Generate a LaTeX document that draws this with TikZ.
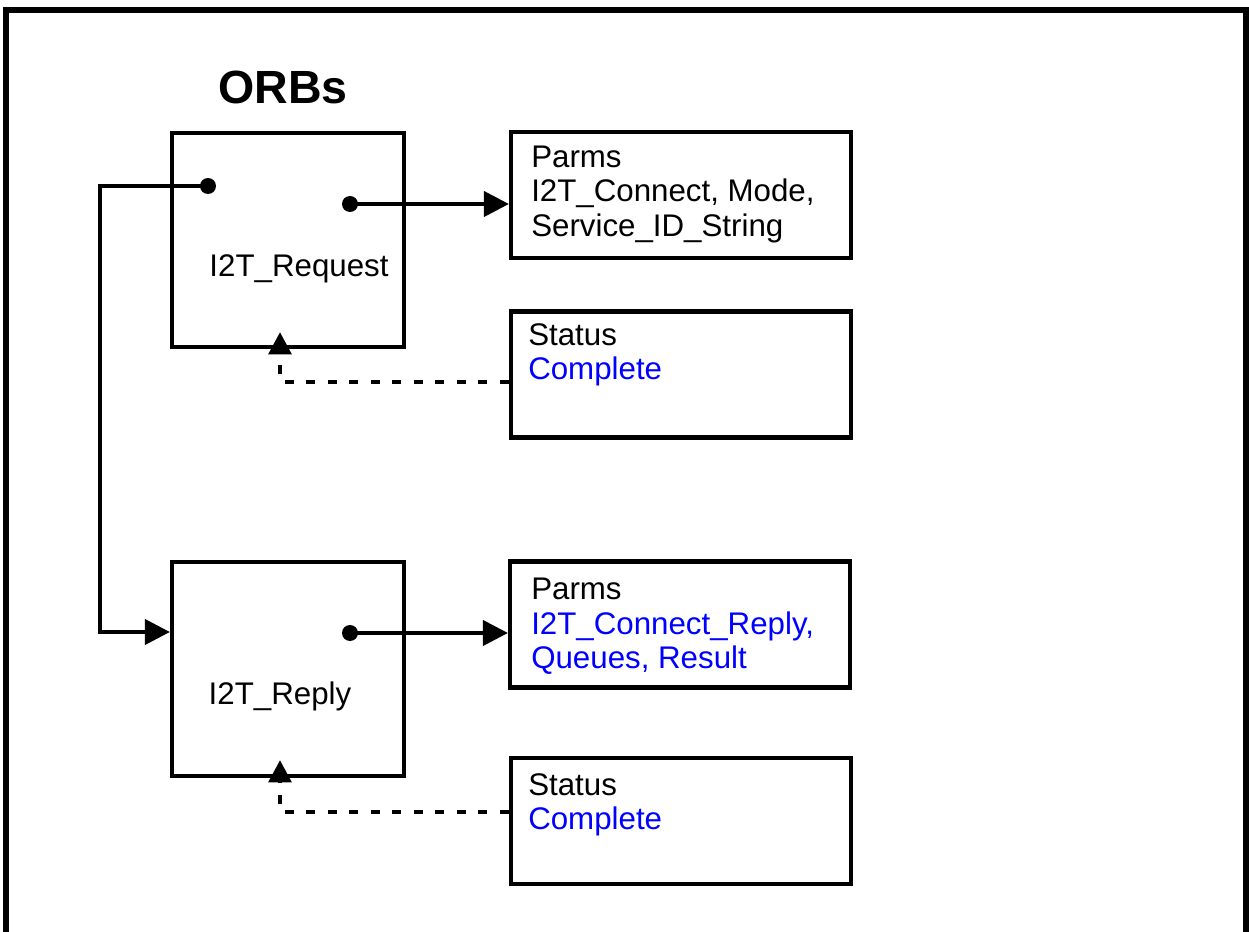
\documentclass[tikz,border=0pt]{standalone}
\usepackage{fontspec}
\setmainfont{Liberation Sans}
\usetikzlibrary{arrows.meta, positioning}
\tikzset{
  box/.style={draw, line width=2.4pt, minimum width=6.8cm, minimum height=2.52cm, inner sep=0pt},
  orb/.style={box, minimum width=4.64cm, minimum height=4.28cm},
  txt/.style={inner sep=0pt, align=left, font=\fontsize{17.8pt}{19.6pt}\selectfont},
  dot/.style={circle, fill, inner sep=0pt, minimum size=0.32cm},
  flow/.style={line width=2.3pt, -{Triangle[length=0.5cm,width=0.5cm]}},
  fb/.style={line width=2.8pt, dash pattern=on 0.18cm off 0.25cm, -{Triangle[length=0.45cm,width=0.45cm]}},
}
\begin{document}
\begin{tikzpicture}[x=0.02cm, y=-0.02cm]
  \useasboundingbox (0,0) rectangle (1249,932);
%% outer frame
  \draw[line width=3.6pt] (6,932) -- (6,10) -- (1246,10) -- (1246,932);
%% ORBs
  \node[font=\bfseries\fontsize{26.5pt}{30pt}\selectfont, anchor=base] (title) at (283,104) {ORBs};
  \node[orb] (request) at (288,240) {};
  \node[orb] (reply) at (288,669) {};
  \node[txt, anchor=base] (reqName) at (299,277) {I2T\_Request};
  \node[txt, anchor=base] (repName) at (280,705) {I2T\_Reply};
%% parameter and status blocks
  \node[box] (parmsA) at (681,195) {};
  \node[box] (statusA) at (681,374.5) {};
  \node[box] (parmsB) at (680,624.5) {};
  \node[box] (statusB) at (681,821) {};
  \node[txt, below right=0.31cm and 0.44cm of parmsA.north west] (parmsAtxt)
    {Parms\\I2T\_Connect, Mode,\\Service\_ID\_String};
  \node[txt, below right=0.27cm and 0.38cm of statusA.north west] (statusAtxt)
    {Status\\\textcolor{blue}{Complete}};
  \node[txt, below right=0.37cm and 0.46cm of parmsB.north west] (parmsBtxt)
    {Parms\\\textcolor{blue}{I2T\_Connect\_Reply,}\\\textcolor{blue}{Queues, Result}};
  \node[txt, below right=0.34cm and 0.38cm of statusB.north west] (statusBtxt)
    {Status\\\textcolor{blue}{Complete}};
%% connectors
  \node[dot] (reqIn) at (208,186) {};
  \node[dot] (reqOut) at (350,204) {};
  \node[dot] (repOut) at (350,633) {};
  \coordinate (reqFb) at (280,332);
  \coordinate (repFb) at (280,760);
  \draw[flow] (reqOut.center) -- (parmsA.west |- reqOut);
  \draw[flow] (repOut.center) -- (parmsB.west |- repOut);
  \draw[flow] (reqIn.center) -| (100,632) -- (reply.west |- 0,632);
  \draw[fb] (statusA.west |- 0,382) -| (reqFb);
  \draw[fb] (statusB.west |- 0,812) -| (repFb);
\end{tikzpicture}
\end{document}
